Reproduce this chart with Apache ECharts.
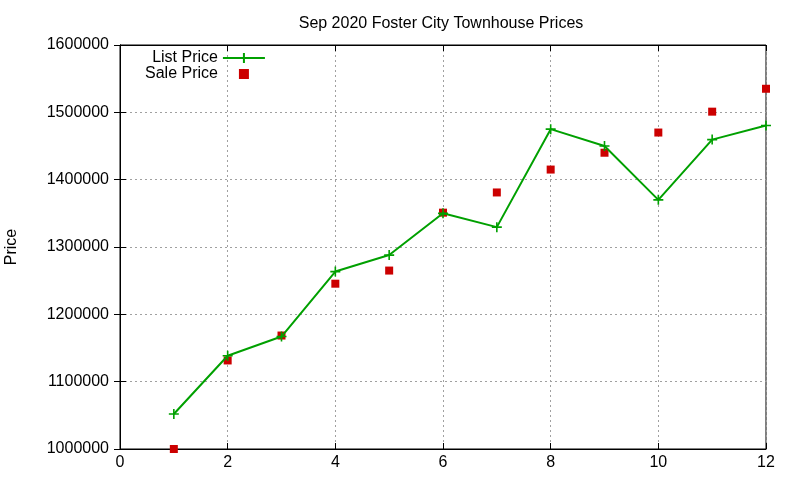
<!DOCTYPE html>
<html>
<head>
<meta charset="utf-8">
<script src="https://cdn.jsdelivr.net/npm/echarts@6/dist/echarts.min.js"></script>
<style>
    html, body { margin: 0; padding: 0; background: #fff; }
    #chart { width: 800px; height: 480px; }
</style>
</head>
<body>
<div id="chart"></div>
<script>
    // months 1..12 of the period
    var months = [1, 2, 3, 4, 5, 6, 7, 8, 9, 10, 11, 12]
    var listPrice = [1052000, 1138500, 1167000, 1263500, 1288000, 1350000, 1329500, 1475000, 1450000, 1370000, 1459500, 1480500]
    var salePrice = [1000000, 1131500, 1168500, 1245500, 1265000, 1351000, 1381000, 1415000, 1440000, 1470000, 1501000, 1535000]

    function pairs(xs, ys) {
        var out = []
        for (var i = 0; i < xs.length; i++) out.push([xs[i], ys[i]])
        return out
    }

    var font = 'Liberation Sans, Arial, sans-serif'
    var plus = 'path://M4.2,0H5.8V10H4.2ZM0,4.2H10V5.8H0Z'
    var legendLine = 'path://M0,4H42V6H0ZM20,0H22V10H20Z'
    var legendSquare = 'path://M1,1H9V9H1Z'

    var gridLine = { show: true, lineStyle: { color: '#a0a0a0', type: [2, 3], width: 1 } }
    var border = { show: true, lineStyle: { color: '#000', width: 1 } }
    var tick = { show: true, inside: true, length: 6, lineStyle: { color: '#000' } }
    var plain = function (v) { return String(v) }

    var myChart = echarts.init(document.getElementById('chart'))
    var option = {
        animation: false,
        textStyle: { fontFamily: font },
        title: {
            text: 'Sep 2020 Foster City Townhouse Prices',
            left: 436,
            textAlign: 'center',
            top: 11,
            textStyle: { fontSize: 16, fontWeight: 'normal', color: '#000', fontFamily: font }
        },
        legend: {
            orient: 'vertical',
            left: 140,
            top: 45,
            align: 'right',
            itemWidth: 42,
            itemHeight: 10,
            itemGap: 0,
            symbolKeepAspect: true,
            textStyle: { fontSize: 16, lineHeight: 15, color: '#000', fontFamily: font },
            data: [
                { name: 'List Price', icon: legendLine },
                { name: 'Sale Price', icon: legendSquare }
            ]
        },
        grid: {
            left: 120, right: 34, top: 45, bottom: 31,
            outerBoundsMode: 'none', containLabel: false,
            show: true, borderColor: '#000', borderWidth: 1
        },
        xAxis: [
            {
                type: 'value', min: 0, max: 12, interval: 2, position: 'bottom',
                axisLine: border, axisTick: tick, splitLine: gridLine,
                axisLabel: { fontSize: 16, color: '#000', margin: 6, fontFamily: font }
            },
            {
                type: 'value', min: 0, max: 12, interval: 2, position: 'top',
                axisLine: border, axisTick: tick, splitLine: { show: false }, axisLabel: { show: false }
            }
        ],
        yAxis: [
            {
                type: 'value', min: 1000000, max: 1600000, interval: 100000, position: 'left',
                name: 'Price', nameLocation: 'middle', nameGap: 100, nameRotate: 90,
                nameTextStyle: { fontSize: 16, color: '#000', fontFamily: font },
                axisLine: border, axisTick: tick, splitLine: gridLine,
                axisLabel: { fontSize: 16, color: '#000', margin: 11, fontFamily: font, formatter: plain }
            },
            {
                type: 'value', min: 1000000, max: 1600000, interval: 100000, position: 'right',
                axisLine: border, axisTick: tick, splitLine: { show: false }, axisLabel: { show: false }
            }
        ],
        series: [
            {
                name: 'List Price',
                type: 'line',
                data: pairs(months, listPrice),
                symbol: plus,
                symbolSize: 10,
                showAllSymbol: true,
                itemStyle: { color: '#00a000' },
                lineStyle: { color: '#00a000', width: 2 },
                z: 3
            },
            {
                name: 'Sale Price',
                type: 'scatter',
                data: pairs(months, salePrice),
                symbol: 'rect',
                symbolSize: 8,
                itemStyle: { color: '#cc0000', opacity: 1 },
                z: 2
            }
        ]
    }
    myChart.setOption(option)
</script>
</body>
</html>
